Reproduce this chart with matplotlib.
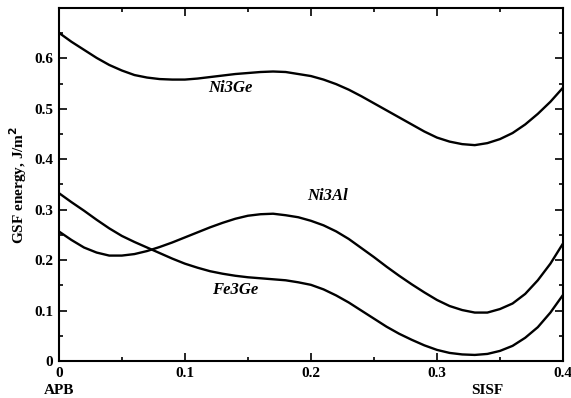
import matplotlib
matplotlib.use('Agg')
from matplotlib import pyplot as plt
from matplotlib.ticker import MultipleLocator

# fault vector positions and energies (J/m^2)
x = [0.00, 0.01, 0.02, 0.03, 0.04, 0.05, 0.06, 0.07, 0.08, 0.09, 0.10,
     0.11, 0.12, 0.13, 0.14, 0.15, 0.16, 0.17, 0.18, 0.19, 0.20,
     0.21, 0.22, 0.23, 0.24, 0.25, 0.26, 0.27, 0.28, 0.29, 0.30,
     0.31, 0.32, 0.33, 0.34, 0.35, 0.36, 0.37, 0.38, 0.39, 0.40]
ni3ge = [0.651, 0.633, 0.617, 0.601, 0.587, 0.576, 0.567, 0.562, 0.559, 0.558, 0.558,
         0.560, 0.563, 0.566, 0.569, 0.571, 0.573, 0.574, 0.573, 0.569, 0.565,
         0.558, 0.549, 0.538, 0.525, 0.511, 0.497, 0.483, 0.469, 0.455, 0.443,
         0.435, 0.430, 0.428, 0.432, 0.440, 0.452, 0.469, 0.490, 0.514, 0.542]
ni3al = [0.257, 0.240, 0.225, 0.215, 0.209, 0.209, 0.212, 0.218, 0.226, 0.235, 0.245,
         0.255, 0.265, 0.274, 0.282, 0.288, 0.291, 0.292, 0.289, 0.285, 0.278,
         0.269, 0.257, 0.242, 0.224, 0.206, 0.187, 0.169, 0.152, 0.136, 0.121,
         0.109, 0.101, 0.096, 0.096, 0.103, 0.114, 0.133, 0.160, 0.193, 0.233]
fe3ge = [0.333, 0.315, 0.298, 0.280, 0.263, 0.248, 0.236, 0.225, 0.214, 0.203, 0.193,
         0.185, 0.178, 0.173, 0.169, 0.166, 0.164, 0.162, 0.160, 0.156, 0.151,
         0.142, 0.130, 0.116, 0.100, 0.084, 0.068, 0.054, 0.042, 0.031, 0.022,
         0.016, 0.013, 0.012, 0.014, 0.020, 0.030, 0.046, 0.067, 0.096, 0.131]

labels = ['Ni3Ge', 'Ni3Al', 'Fe3Ge']
label_pos = [(0.136, 0.542), (0.213, 0.327), (0.140, 0.141)]

plt.rcParams['font.family'] = ['Liberation Serif', 'DejaVu Serif']
plt.rcParams['font.weight'] = 'bold'

fig = plt.figure(figsize=(5.71, 3.98), dpi=100)
ax = fig.add_axes([0.103, 0.093, 0.883, 0.887])

for ys in (ni3ge, ni3al, fe3ge):
    ax.plot(x, ys, color='black', lw=1.7)

for name, (tx, ty) in zip(labels, label_pos):
    ax.text(tx, ty, name, fontsize=12, fontstyle='italic', fontweight='bold',
            ha='center', va='center')

ax.set_xlim(0, 0.4)
ax.set_ylim(0, 0.7)
ax.xaxis.set_minor_locator(MultipleLocator(0.05))
ax.yaxis.set_minor_locator(MultipleLocator(0.05))
ax.set_xticks([0, 0.1, 0.2, 0.3, 0.4])
ax.set_xticklabels(['0', '0.1', '0.2', '0.3', '0.4'])
ax.set_yticks([0, 0.1, 0.2, 0.3, 0.4, 0.5, 0.6])
ax.set_yticklabels(['0', '0.1', '0.2', '0.3', '0.4', '0.5', '0.6'])
ax.tick_params(which='both', direction='in', top=True, right=True,
               labelsize=11, width=1.2)
ax.tick_params(which='major', length=6, pad=4)
ax.tick_params(which='minor', length=3)
for s in ax.spines.values():
    s.set_linewidth(1.5)

ax.set_ylabel('GSF energy, J/m$^\\mathbf{2}$', fontsize=11, fontweight='bold', labelpad=4)
ax.text(0.0, -0.066, 'APB', transform=ax.get_xaxis_transform(), ha='center',
        va='top', fontsize=11, fontweight='bold')
ax.text(0.34, -0.066, 'SISF', transform=ax.get_xaxis_transform(), ha='center',
        va='top', fontsize=11, fontweight='bold')

fig.savefig('out.png', dpi=100)
